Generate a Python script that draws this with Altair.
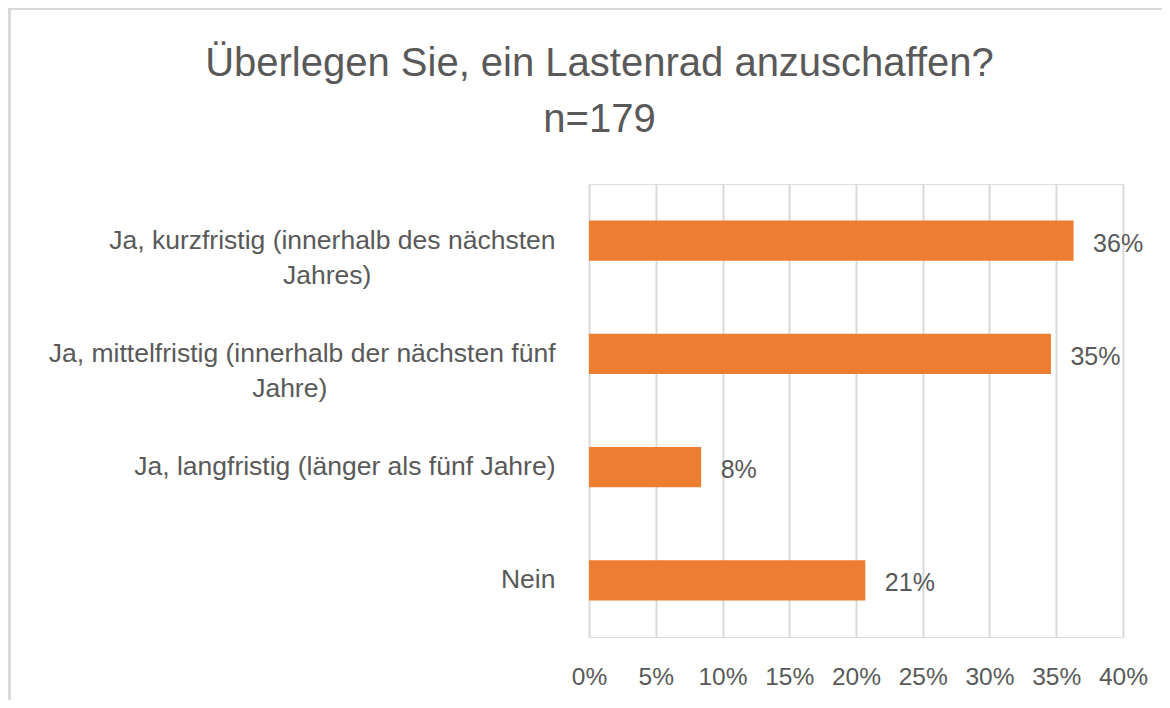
import altair as alt
import pandas as pd

# ---- data ----
categories = [
    "Ja, kurzfristig (innerhalb des nächsten Jahres)",
    "Ja, mittelfristig (innerhalb der nächsten fünf Jahre)",
    "Ja, langfristig (länger als fünf Jahre)",
    "Nein",
]
label_first = [
    "Ja, kurzfristig (innerhalb des nächsten",
    "Ja, mittelfristig (innerhalb der nächsten fünf",
    "Ja, langfristig (länger als fünf Jahre)",
    "Nein",
]
label_second = ["Jahres)", "Jahre)", "", ""]
shares = [0.363, 0.346, 0.084, 0.207]
tick_values = [0.0, 0.05, 0.10, 0.15, 0.20, 0.25, 0.30, 0.35, 0.40]
title_lines = ["Überlegen Sie, ein Lastenrad anzuschaffen?", "n=179"]

# ---- styling ----
FONT = "Liberation Sans"
TEXT = "#595959"
BAR = "#ED7D31"
GRID = "#D9D9D9"
W, H = 534, 453
PAD = {"left": 581, "top": 176, "right": 39, "bottom": 63}  # total 1154 x 692

# Excel centres a wrapped second line under the first: pad it with no-break
# spaces, closed by a zero-width space so the padding is not trimmed.
NBSP, ZWSP = "\u00a0", "\u200b"
centre_pad = [25, 31, 0, 0]
labels = [
    a + ("|" + b + NBSP * p + ZWSP if b else "")
    for a, b, p in zip(label_first, label_second, centre_pad)
]

df = pd.DataFrame({"kategorie": categories, "label": labels, "anteil": shares})

y_enc = alt.Y(
    "label:N",
    sort=labels,
    scale=alt.Scale(paddingInner=0.645, paddingOuter=0.3225),
    axis=alt.Axis(
        title=None, domain=False, ticks=False, tickSize=0, grid=False,
        labelExpr="split(datum.label, '|')",
        labelFont=FONT, labelFontSize=26.5, labelColor=TEXT,
        labelLineHeight=35.5, labelPadding=34, labelLimit=0, labelAlign="right",
    ),
)
x_enc = alt.X(
    "anteil:Q",
    scale=alt.Scale(domain=[0, 0.4], nice=False, zero=True),
    axis=alt.Axis(
        title=None, values=tick_values, format=".0%", domain=False, ticks=False, tickSize=0,
        grid=True, gridColor=GRID, gridWidth=2,
        labelFont=FONT, labelFontSize=24.5, labelColor=TEXT, labelPadding=28,
        labelFlush=False, labelOverlap=False,
    ),
)

one = pd.DataFrame({"k": [0]})

# chart-area frame (top and left edges visible in the reference)
frame_top = alt.Chart(one).mark_rule(color=GRID, strokeWidth=3).encode(
    x=alt.value(-581), x2=alt.value(W + PAD["right"]), y=alt.value(-175.5)
)
frame_left = alt.Chart(one).mark_rule(color=GRID, strokeWidth=3).encode(
    x=alt.value(-579.5), y=alt.value(-176), y2=alt.value(H + PAD["bottom"])
)

title = alt.Chart(one).mark_text(
    text=title_lines, font=FONT, fontSize=40, color=TEXT, align="center",
    baseline="top", lineHeight=56,
).encode(x=alt.value(10.5), y=alt.value(-139.6))

base = alt.Chart(df)
bars = base.mark_bar(color=BAR).encode(x=x_enc, y=y_enc)
values = base.mark_text(
    align="left", baseline="middle", dx=19.5, dy=3, font=FONT, fontSize=25, color=TEXT
).encode(
    x=alt.X("anteil:Q"),
    y=alt.Y("label:N", sort=labels),
    text=alt.Text("anteil:Q", format=".0%"),
)

chart = alt.layer(frame_top, frame_left, title, bars, values).properties(
    width=W,
    height=H,
    padding=PAD,
    autosize=alt.AutoSizeParams(type="none"),
).configure_view(stroke=None).configure(background="white")

chart.save("out.html", embed_options={"renderer": "svg", "actions": False})
